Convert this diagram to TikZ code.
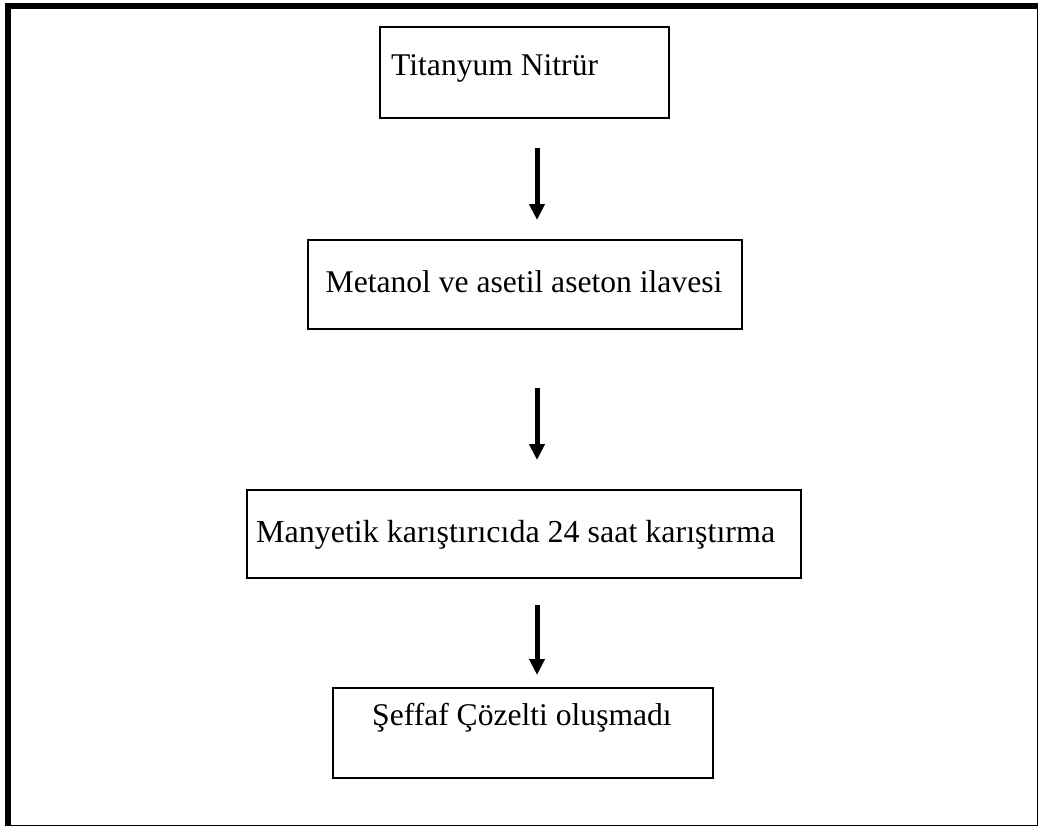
\documentclass[tikz,border=0pt]{standalone}
\usepackage{fontspec}
\setmainfont{Liberation Serif}
\usetikzlibrary{arrows.meta}

\begin{document}
\begin{tikzpicture}[
  x=1pt, y=-1pt,
  stepbox/.style={rectangle, draw=black, line width=2.2pt, inner sep=0pt, outer sep=0pt},
  steptext/.style={inner sep=0pt, font=\fontsize{31.6}{36}\selectfont},
  flow/.style={-{Triangle[width=15pt,length=16pt]}, line width=5pt}
  ]
  \useasboundingbox (0,0) rectangle (1039,827);

  % outer frame: heavy on top and left
  \draw[line width=6pt] (8,826) -- (8,6) -- (1038,6);
  \draw[line width=1.5pt] (1037.5,3) -- (1037.5,825.5) -- (5,825.5);

  % the four steps
  \node[stepbox, minimum width=289, minimum height=91] (tin) at (524.5,72.5) {};
  \node[steptext, anchor=base west] (tintxt) at (391,75) {Titanyum Nitrür};

  \node[stepbox, minimum width=434, minimum height=89] (met) at (525,284.5) {};
  \node[steptext, anchor=base] (mettxt) at (524,292) {Metanol ve asetil aseton ilavesi};

  \node[stepbox, minimum width=554, minimum height=88] (mix) at (524,534) {};
  \node[steptext, font=\fontsize{32}{36}\selectfont, anchor=base west] (mixtxt) at (256,542) {Manyetik karıştırıcıda 24 saat karıştırma};

  \node[stepbox, minimum width=380, minimum height=90] (sol) at (523,733) {};
  \node[steptext, anchor=base west] (soltxt) at (372,725) {Şeffaf Çözelti oluşmadı};

  % arrows between steps
  \coordinate (ax) at (537,0);
  \draw[flow, shorten <=30pt, shorten >=20pt] (tin.south -| ax) -- (met.north -| ax);
  \draw[flow, shorten <=59pt, shorten >=30pt] (met.south -| ax) -- (mix.north -| ax);
  \draw[flow, shorten <=27pt, shorten >=13pt] (mix.south -| ax) -- (sol.north -| ax);
\end{tikzpicture}
\end{document}
